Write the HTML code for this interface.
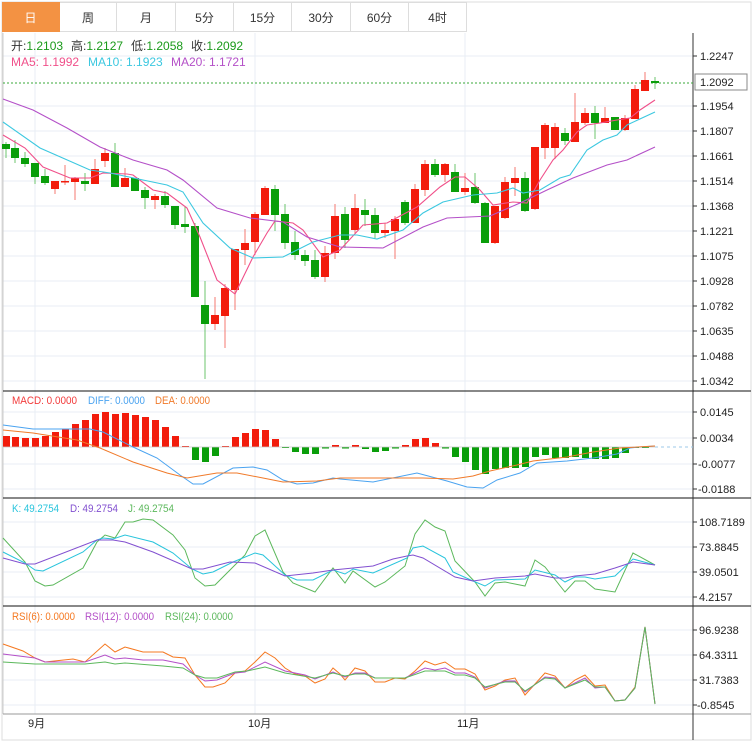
<!DOCTYPE html>
<html><head><meta charset="utf-8">
<style>
body{margin:0;background:#fff;width:756px;height:749px;overflow:hidden;font-family:"Liberation Sans","Noto Sans CJK SC",sans-serif}
.tabs{position:absolute;left:2px;top:2px;height:30px;display:flex}
.tab{width:57px;height:30px;border:1px solid #ddd;border-left:none;box-sizing:border-box;text-align:center;line-height:30px;font-size:12px;color:#333;margin-right:0}
.tab.on{background:#f39243;color:#fff;border-color:#f39243}
svg{position:absolute;left:0;top:0}
text{font-family:"Liberation Sans","Noto Sans CJK SC",sans-serif}
.r{fill:#f21c0c}.g{fill:#0a9e0a}
.wr{stroke:#f47a70;stroke-width:1}.wg{stroke:#6cc46c;stroke-width:1}
.ax{font-size:11px;fill:#222}
</style></head><body>
<svg width="756" height="749" viewBox="0 0 756 749">
<rect x="2" y="2" width="749" height="738" fill="#fff" stroke="#ddd"/>
<g stroke="#e8eef4" stroke-width="1">
<line x1="3" y1="56" x2="693" y2="56"/><line x1="3" y1="106" x2="693" y2="106"/><line x1="3" y1="131" x2="693" y2="131"/><line x1="3" y1="156" x2="693" y2="156"/><line x1="3" y1="181" x2="693" y2="181"/><line x1="3" y1="206" x2="693" y2="206"/><line x1="3" y1="231" x2="693" y2="231"/><line x1="3" y1="256" x2="693" y2="256"/><line x1="3" y1="281" x2="693" y2="281"/><line x1="3" y1="306" x2="693" y2="306"/><line x1="3" y1="331" x2="693" y2="331"/><line x1="3" y1="356" x2="693" y2="356"/><line x1="3" y1="381" x2="693" y2="381"/>
<line x1="3" y1="412" x2="693" y2="412"/><line x1="3" y1="438" x2="693" y2="438"/><line x1="3" y1="464" x2="693" y2="464"/><line x1="3" y1="489" x2="693" y2="489"/>
<line x1="3" y1="522" x2="693" y2="522"/><line x1="3" y1="547" x2="693" y2="547"/><line x1="3" y1="572" x2="693" y2="572"/><line x1="3" y1="597" x2="693" y2="597"/>
<line x1="3" y1="630" x2="693" y2="630"/><line x1="3" y1="655" x2="693" y2="655"/><line x1="3" y1="680" x2="693" y2="680"/><line x1="3" y1="705" x2="693" y2="705"/>
<line x1="35" y1="33" x2="35" y2="714"/><line x1="255" y1="33" x2="255" y2="714"/><line x1="465" y1="33" x2="465" y2="714"/>
</g>
<line x1="3" y1="33" x2="3" y2="714" stroke="#ccc"/>
<line x1="3" y1="391" x2="693" y2="391" stroke="#111"/>
<line x1="3" y1="498" x2="751" y2="498" stroke="#111"/>
<line x1="3" y1="606" x2="751" y2="606" stroke="#111"/>
<line x1="3" y1="714" x2="751" y2="714" stroke="#999"/>
<line x1="693" y1="33" x2="693" y2="740" stroke="#333"/>
<line x1="693" y1="391" x2="751" y2="391" stroke="#111"/>
<g stroke="#333">
<line x1="693" y1="56" x2="697" y2="56"/><line x1="693" y1="106" x2="697" y2="106"/><line x1="693" y1="131" x2="697" y2="131"/><line x1="693" y1="156" x2="697" y2="156"/><line x1="693" y1="181" x2="697" y2="181"/><line x1="693" y1="206" x2="697" y2="206"/><line x1="693" y1="231" x2="697" y2="231"/><line x1="693" y1="256" x2="697" y2="256"/><line x1="693" y1="281" x2="697" y2="281"/><line x1="693" y1="306" x2="697" y2="306"/><line x1="693" y1="331" x2="697" y2="331"/><line x1="693" y1="356" x2="697" y2="356"/><line x1="693" y1="381" x2="697" y2="381"/>
<line x1="693" y1="412" x2="697" y2="412"/><line x1="693" y1="438" x2="697" y2="438"/><line x1="693" y1="464" x2="697" y2="464"/><line x1="693" y1="489" x2="697" y2="489"/>
<line x1="693" y1="522" x2="697" y2="522"/><line x1="693" y1="547" x2="697" y2="547"/><line x1="693" y1="572" x2="697" y2="572"/><line x1="693" y1="597" x2="697" y2="597"/>
<line x1="693" y1="630" x2="697" y2="630"/><line x1="693" y1="655" x2="697" y2="655"/><line x1="693" y1="680" x2="697" y2="680"/><line x1="693" y1="705" x2="697" y2="705"/>
</g>
<g class="ax">
<text x="700" y="60">1.2247</text><text x="700" y="110">1.1954</text><text x="700" y="135">1.1807</text><text x="700" y="160">1.1661</text><text x="700" y="185">1.1514</text><text x="700" y="210">1.1368</text><text x="700" y="235">1.1221</text><text x="700" y="260">1.1075</text><text x="700" y="285">1.0928</text><text x="700" y="310">1.0782</text><text x="700" y="335">1.0635</text><text x="700" y="360">1.0488</text><text x="700" y="385">1.0342</text>
<text x="700" y="416">0.0145</text><text x="700" y="442">0.0034</text><text x="698" y="468">-0.0077</text><text x="698" y="493">-0.0188</text>
<text x="699" y="526">108.7189</text><text x="699" y="551">73.8845</text><text x="699" y="576">39.0501</text><text x="699" y="601">4.2157</text>
<text x="699" y="634">96.9238</text><text x="699" y="659">64.3311</text><text x="699" y="684">31.7383</text><text x="697" y="709">-0.8545</text>
</g>
<rect x="695" y="74" width="52" height="16" fill="#fff" stroke="#888"/>
<text x="700" y="86" class="ax">1.2092</text>
<line x1="3" y1="83" x2="693" y2="83" stroke="#3aa83a" stroke-dasharray="2,2"/>
<g>
<line class="wg" x1="6" y1="142" x2="6" y2="158"/><rect class="g" x="2" y="144" width="8" height="5"/>
<line class="wg" x1="15" y1="140" x2="15" y2="163"/><rect class="g" x="11" y="148" width="8" height="10"/>
<line class="wg" x1="25" y1="152" x2="25" y2="167"/><rect class="g" x="21" y="158" width="8" height="6"/>
<line class="wg" x1="35" y1="163" x2="35" y2="184"/><rect class="g" x="31" y="163" width="8" height="14"/>
<line class="wg" x1="45" y1="169" x2="45" y2="185"/><rect class="g" x="41" y="176" width="8" height="7"/>
<line class="wr" x1="55" y1="181" x2="55" y2="194"/><rect class="r" x="51" y="181" width="8" height="8"/>
<line class="wr" x1="65" y1="165" x2="65" y2="185"/><rect class="r" x="61" y="181" width="8" height="1.5"/>
<line class="wr" x1="75" y1="177" x2="75" y2="200"/><rect class="r" x="71" y="178" width="8" height="4"/>
<line class="wg" x1="85" y1="173" x2="85" y2="191"/><rect class="g" x="81" y="181" width="8" height="3"/>
<line class="wr" x1="95" y1="159" x2="95" y2="184"/><rect class="r" x="91" y="169" width="8" height="15"/>
<line class="wr" x1="105" y1="148" x2="105" y2="167"/><rect class="r" x="101" y="153" width="8" height="8"/>
<line class="wg" x1="115" y1="143" x2="115" y2="187"/><rect class="g" x="111" y="153" width="8" height="34"/>
<line class="wr" x1="125" y1="168" x2="125" y2="187"/><rect class="r" x="121" y="178" width="8" height="9"/>
<line class="wg" x1="135" y1="178" x2="135" y2="191"/><rect class="g" x="131" y="178" width="8" height="13"/>
<line class="wg" x1="145" y1="187" x2="145" y2="209"/><rect class="g" x="141" y="190" width="8" height="8"/>
<line class="wr" x1="155" y1="194" x2="155" y2="209"/><rect class="r" x="151" y="196" width="8" height="4"/>
<line class="wg" x1="165" y1="191" x2="165" y2="208"/><rect class="g" x="161" y="196" width="8" height="9"/>
<line class="wg" x1="175" y1="206" x2="175" y2="229"/><rect class="g" x="171" y="206" width="8" height="19"/>
<line class="wg" x1="185" y1="207" x2="185" y2="233"/><rect class="g" x="181" y="224" width="8" height="3"/>
<line class="wg" x1="195" y1="223" x2="195" y2="297"/><rect class="g" x="191" y="226" width="8" height="71"/>
<line class="wg" x1="205" y1="281" x2="205" y2="379"/><rect class="g" x="201" y="305" width="8" height="19"/>
<line class="wr" x1="215" y1="297" x2="215" y2="330"/><rect class="r" x="211" y="315" width="8" height="9"/>
<line class="wr" x1="225" y1="284" x2="225" y2="348"/><rect class="r" x="221" y="288" width="8" height="28"/>
<line class="wr" x1="235" y1="249" x2="235" y2="310"/><rect class="r" x="231" y="249" width="8" height="41"/>
<line class="wr" x1="245" y1="229" x2="245" y2="265"/><rect class="r" x="241" y="243" width="8" height="7"/>
<line class="wr" x1="255" y1="212" x2="255" y2="255"/><rect class="r" x="251" y="214" width="8" height="28"/>
<line class="wr" x1="265" y1="186" x2="265" y2="215"/><rect class="r" x="261" y="188" width="8" height="27"/>
<line class="wg" x1="275" y1="185" x2="275" y2="231"/><rect class="g" x="271" y="189" width="8" height="26"/>
<line class="wg" x1="285" y1="204" x2="285" y2="249"/><rect class="g" x="281" y="214" width="8" height="29"/>
<line class="wg" x1="295" y1="231" x2="295" y2="260"/><rect class="g" x="291" y="242" width="8" height="13"/>
<line class="wg" x1="305" y1="250" x2="305" y2="266"/><rect class="g" x="301" y="255" width="8" height="6"/>
<line class="wg" x1="315" y1="250" x2="315" y2="279"/><rect class="g" x="311" y="260" width="8" height="17"/>
<line class="wr" x1="325" y1="246" x2="325" y2="282"/><rect class="r" x="321" y="253" width="8" height="24"/>
<line class="wr" x1="335" y1="204" x2="335" y2="259"/><rect class="r" x="331" y="216" width="8" height="37"/>
<line class="wg" x1="345" y1="207" x2="345" y2="248"/><rect class="g" x="341" y="214" width="8" height="26"/>
<line class="wr" x1="355" y1="194" x2="355" y2="233"/><rect class="r" x="351" y="208" width="8" height="22"/>
<line class="wg" x1="365" y1="199" x2="365" y2="226"/><rect class="g" x="361" y="210" width="8" height="5"/>
<line class="wg" x1="375" y1="208" x2="375" y2="238"/><rect class="g" x="371" y="215" width="8" height="18"/>
<line class="wr" x1="385" y1="223" x2="385" y2="238"/><rect class="r" x="381" y="230" width="8" height="3"/>
<line class="wr" x1="395" y1="216" x2="395" y2="259"/><rect class="r" x="391" y="219" width="8" height="12"/>
<line class="wg" x1="405" y1="200" x2="405" y2="225"/><rect class="g" x="401" y="202" width="8" height="21"/>
<line class="wr" x1="415" y1="184" x2="415" y2="223"/><rect class="r" x="411" y="189" width="8" height="34"/>
<line class="wr" x1="425" y1="160" x2="425" y2="196"/><rect class="r" x="421" y="164" width="8" height="26"/>
<line class="wg" x1="435" y1="159" x2="435" y2="177"/><rect class="g" x="431" y="164" width="8" height="11"/>
<line class="wr" x1="445" y1="163" x2="445" y2="182"/><rect class="r" x="441" y="164" width="8" height="11"/>
<line class="wg" x1="455" y1="164" x2="455" y2="192"/><rect class="g" x="451" y="172" width="8" height="20"/>
<line class="wr" x1="465" y1="173" x2="465" y2="195"/><rect class="r" x="461" y="188" width="8" height="4"/>
<line class="wg" x1="475" y1="173" x2="475" y2="204"/><rect class="g" x="471" y="187" width="8" height="16"/>
<line class="wg" x1="485" y1="202" x2="485" y2="243"/><rect class="g" x="481" y="203" width="8" height="40"/>
<line class="wr" x1="495" y1="206" x2="495" y2="244"/><rect class="r" x="491" y="206" width="8" height="37"/>
<line class="wr" x1="505" y1="177" x2="505" y2="219"/><rect class="r" x="501" y="182" width="8" height="36"/>
<line class="wr" x1="515" y1="167" x2="515" y2="196"/><rect class="r" x="511" y="178" width="8" height="5"/>
<line class="wg" x1="525" y1="172" x2="525" y2="212"/><rect class="g" x="521" y="178" width="8" height="33"/>
<line class="wr" x1="535" y1="147" x2="535" y2="210"/><rect class="r" x="531" y="147" width="8" height="62"/>
<line class="wr" x1="545" y1="123" x2="545" y2="159"/><rect class="r" x="541" y="125" width="8" height="23"/>
<line class="wr" x1="555" y1="123" x2="555" y2="159"/><rect class="r" x="551" y="127" width="8" height="21"/>
<line class="wg" x1="565" y1="128" x2="565" y2="145"/><rect class="g" x="561" y="133" width="8" height="8"/>
<line class="wr" x1="575" y1="93" x2="575" y2="142"/><rect class="r" x="571" y="122" width="8" height="20"/>
<line class="wr" x1="585" y1="108" x2="585" y2="125"/><rect class="r" x="581" y="113" width="8" height="10"/>
<line class="wg" x1="595" y1="106" x2="595" y2="139"/><rect class="g" x="591" y="113" width="8" height="10"/>
<line class="wr" x1="605" y1="107" x2="605" y2="123"/><rect class="r" x="601" y="118" width="8" height="5"/>
<line class="wg" x1="615" y1="117" x2="615" y2="130"/><rect class="g" x="611" y="117" width="8" height="13"/>
<line class="wr" x1="625" y1="115" x2="625" y2="131"/><rect class="r" x="621" y="118" width="8" height="12"/>
<line class="wr" x1="635" y1="85" x2="635" y2="119"/><rect class="r" x="631" y="89" width="8" height="30"/>
<line class="wr" x1="645" y1="72" x2="645" y2="91"/><rect class="r" x="641" y="80" width="8" height="11"/>
<line class="wg" x1="655" y1="77" x2="655" y2="89"/><rect class="g" x="651" y="81" width="8" height="2"/>
</g>
<g fill="none" stroke-width="1.1">
<polyline stroke="#f0508a" points="3,135 25,148 43,167 70,178 90,178 103,173 127,174 133,175 153,190 167,193 187,208 200,237 217,280 235,294 253,257 267,233 275,221 293,223 303,230 323,257 340,250 363,225 387,223 417,207 440,187 455,177 465,177 480,190 493,205 513,202 527,203 540,180 553,160 563,150 577,132 587,125 600,123 617,120 630,118 640,110 655,100"/>
<polyline stroke="#3cc8e0" points="3,122 40,148 90,170 110,173 143,180 167,185 183,192 203,223 230,248 253,258 283,257 313,242 340,235 357,235 377,239 403,230 423,213 443,202 473,195 497,193 513,188 523,193 540,190 560,178 570,175 587,150 603,140 617,135 627,125 655,112"/>
<polyline stroke="#b450c8" points="3,99 33,110 67,128 100,147 133,160 167,170 183,180 217,208 250,218 283,222 307,237 340,247 383,248 423,227 447,218 490,216 520,203 547,190 573,178 607,165 627,160 655,147"/>
</g>
<g>
<rect class="r" x="3" y="436" width="7" height="11"/><rect class="r" x="12" y="437" width="7" height="10"/><rect class="r" x="22" y="438" width="7" height="9"/><rect class="r" x="32" y="438" width="7" height="9"/><rect class="r" x="42" y="436" width="7" height="11"/><rect class="r" x="52" y="432" width="7" height="15"/><rect class="r" x="62" y="429" width="7" height="18"/><rect class="r" x="72" y="424" width="7" height="23"/><rect class="r" x="82" y="420" width="7" height="27"/><rect class="r" x="92" y="414" width="7" height="33"/><rect class="r" x="102" y="412" width="7" height="35"/><rect class="r" x="112" y="414" width="7" height="33"/><rect class="r" x="122" y="413" width="7" height="34"/><rect class="r" x="132" y="415" width="7" height="32"/><rect class="r" x="142" y="417" width="7" height="30"/><rect class="r" x="152" y="420" width="7" height="27"/><rect class="r" x="162" y="427" width="7" height="20"/><rect class="r" x="172" y="436" width="7" height="11"/><rect class="r" x="182" y="446" width="7" height="1"/>
<rect class="g" x="192" y="447" width="7" height="13"/><rect class="g" x="202" y="447" width="7" height="15"/><rect class="g" x="212" y="447" width="7" height="9"/><rect class="r" x="222" y="446" width="7" height="1"/>
<rect class="r" x="232" y="437" width="7" height="10"/><rect class="r" x="242" y="433" width="7" height="14"/><rect class="r" x="252" y="429" width="7" height="18"/><rect class="r" x="262" y="430" width="7" height="17"/><rect class="r" x="272" y="439" width="7" height="8"/>
<rect class="g" x="282" y="447" width="7" height="1"/><rect class="g" x="292" y="447" width="7" height="5"/><rect class="g" x="302" y="447" width="7" height="7"/><rect class="g" x="312" y="447" width="7" height="7"/><rect class="g" x="322" y="447" width="7" height="1.5"/><rect class="r" x="332" y="445" width="7" height="2"/><rect class="g" x="342" y="447" width="7" height="1.5"/><rect class="r" x="352" y="445" width="7" height="2"/><rect class="g" x="362" y="447" width="7" height="2"/><rect class="g" x="372" y="447" width="7" height="5"/><rect class="g" x="382" y="447" width="7" height="4"/><rect class="g" x="392" y="447" width="7" height="1.5"/>
<rect class="r" x="402" y="445" width="7" height="2"/><rect class="r" x="412" y="439" width="7" height="8"/><rect class="r" x="422" y="438" width="7" height="9"/><rect class="r" x="432" y="443" width="7" height="4"/>
<rect class="g" x="442" y="447" width="7" height="1.5"/><rect class="g" x="452" y="447" width="7" height="10"/><rect class="g" x="462" y="447" width="7" height="15"/><rect class="g" x="472" y="447" width="7" height="23"/><rect class="g" x="482" y="447" width="7" height="27"/><rect class="g" x="492" y="447" width="7" height="22"/><rect class="g" x="502" y="447" width="7" height="21"/><rect class="g" x="512" y="447" width="7" height="21"/><rect class="g" x="522" y="447" width="7" height="20"/><rect class="g" x="532" y="447" width="7" height="10"/><rect class="g" x="542" y="447" width="7" height="8"/><rect class="g" x="552" y="447" width="7" height="11"/><rect class="g" x="562" y="447" width="7" height="11"/><rect class="g" x="572" y="447" width="7" height="10"/><rect class="g" x="582" y="447" width="7" height="11"/><rect class="g" x="592" y="447" width="7" height="12"/><rect class="g" x="602" y="447" width="7" height="12"/><rect class="g" x="612" y="447" width="7" height="11"/><rect class="g" x="622" y="447" width="7" height="6"/><rect class="g" x="632" y="447" width="7" height="1"/><rect class="g" x="642" y="447" width="7" height="1"/>
</g>
<line x1="3" y1="447" x2="655" y2="447" stroke="#c8c8c8" stroke-width="0.8"/>
<line x1="655" y1="447" x2="693" y2="447" stroke="#9cc8e8" stroke-dasharray="3,3"/>
<g fill="none" stroke-width="1">
<polyline stroke="#4aa3f0" points="3,425 33,429 90,429 103,432 133,447 157,458 180,475 193,484 203,484 233,468 253,467 267,470 283,480 297,484 313,483 333,478 340,479 373,482 417,473 447,481 467,487 483,488 497,480 520,473 537,463 567,461 593,458 617,454 630,448 640,447 655,446"/>
<polyline stroke="#f07a2a" points="3,430 33,433 77,440 100,448 133,462 167,473 187,478 217,473 237,473 263,478 283,482 317,481 340,478 390,478 423,478 453,479 473,476 490,471 517,465 533,461 567,457 593,452 620,448 655,446"/>
</g>
<g fill="none" stroke-width="1">
<polyline stroke="#5cb85c" points="3,538 25,562 35,581 45,586 53,585 83,568 97,542 105,535 115,538 125,522 133,522 143,519 153,520 173,535 185,550 195,578 205,586 215,585 230,570 245,555 255,536 265,530 283,572 293,583 315,592 333,568 345,583 353,571 375,587 385,582 405,566 415,534 425,520 435,527 445,531 455,561 475,582 485,596 495,583 505,582 525,586 535,560 545,567 565,592 575,581 585,581 595,589 615,592 633,553 655,565"/>
<polyline stroke="#28c4dc" points="3,552 25,563 35,570 43,571 83,552 97,540 103,538 113,539 125,535 153,542 173,553 192,569 203,574 213,572 233,562 255,553 263,555 285,575 297,580 313,580 333,570 345,574 353,569 373,573 407,558 413,548 423,546 445,558 453,572 473,581 485,586 495,580 525,579 535,570 555,575 565,582 575,577 585,577 595,579 615,576 633,559 655,565"/>
<polyline stroke="#8250d0" points="3,558 25,564 35,564 97,540 113,540 125,542 153,552 192,569 203,569 230,562 255,563 285,576 313,573 333,570 353,568 373,566 393,559 407,556 413,555 423,558 455,577 473,581 495,578 525,576 535,574 555,578 565,578 575,576 595,574 615,568 633,562 655,565"/>
</g>
<g fill="none" stroke-width="1">
<polyline stroke="#f57820" points="3,644 23,651 35,658 45,662 73,659 85,662 105,644 115,652 125,647 143,652 163,652 173,657 185,658 195,675 205,687 213,687 225,683 235,673 245,671 255,662 265,652 275,658 285,668 295,674 305,676 315,683 325,679 333,668 340,674 345,680 355,668 365,671 375,682 385,682 395,678 405,679 415,671 425,661 435,665 445,662 455,669 465,669 475,674 485,690 495,686 505,680 515,678 525,695 535,684 545,673 555,676 565,688 575,680 585,675 595,686 605,685 615,701 625,700 635,687 645,627 655,704"/>
<polyline stroke="#b450c8" points="3,654 35,658 45,662 85,662 105,655 115,659 125,658 143,660 163,660 183,664 195,675 205,681 217,680 235,673 245,672 265,662 285,671 305,675 315,679 333,672 345,677 355,673 365,673 375,678 405,678 425,668 435,670 445,668 455,673 465,673 475,677 485,688 505,681 515,681 525,692 545,677 555,678 565,688 585,678 595,688 605,687 615,701 625,700 635,688 645,627 655,704"/>
<polyline stroke="#5cb85c" points="3,662 35,664 85,664 105,662 115,664 125,663 163,666 183,668 195,675 205,678 217,678 235,672 247,671 265,667 285,673 315,678 333,673 345,676 355,674 365,674 375,678 405,678 425,671 445,671 455,675 465,675 475,678 485,687 505,682 515,682 525,691 545,678 555,679 565,688 585,680 595,687 605,687 615,701 625,700 635,688 645,627 655,704"/>
</g>
<g font-size="12" fill="#333">
<text x="11" y="50">开:<tspan fill="#1a9a1a">1.2103</tspan></text>
<text x="71" y="50">高:<tspan fill="#1a9a1a">1.2127</tspan></text>
<text x="131" y="50">低:<tspan fill="#1a9a1a">1.2058</tspan></text>
<text x="191" y="50">收:<tspan fill="#1a9a1a">1.2092</tspan></text>
<text x="11" y="66" fill="#f0508a">MA5: 1.1992</text>
<text x="88" y="66" fill="#3cc8e0">MA10: 1.1923</text>
<text x="171" y="66" fill="#b450c8">MA20: 1.1721</text>
</g>
<g font-size="11">
<text x="12" y="404" fill="#f23a3a" textLength="65" lengthAdjust="spacingAndGlyphs">MACD: 0.0000</text>
<text x="88" y="404" fill="#4aa3f0" textLength="57" lengthAdjust="spacingAndGlyphs">DIFF: 0.0000</text>
<text x="155" y="404" fill="#f07a2a" textLength="55" lengthAdjust="spacingAndGlyphs">DEA: 0.0000</text>
<text x="12" y="512" fill="#28c4dc" textLength="47" lengthAdjust="spacingAndGlyphs">K: 49.2754</text>
<text x="70" y="512" fill="#8250d0" textLength="48" lengthAdjust="spacingAndGlyphs">D: 49.2754</text>
<text x="128" y="512" fill="#5cb85c" textLength="46" lengthAdjust="spacingAndGlyphs">J: 49.2754</text>
<text x="12" y="620" fill="#f57820" textLength="63" lengthAdjust="spacingAndGlyphs">RSI(6): 0.0000</text>
<text x="85" y="620" fill="#b450c8" textLength="69" lengthAdjust="spacingAndGlyphs">RSI(12): 0.0000</text>
<text x="165" y="620" fill="#5cb85c" textLength="68" lengthAdjust="spacingAndGlyphs">RSI(24): 0.0000</text>
</g>
<text x="28" y="727" font-size="11" fill="#222">9月</text>
<text x="248" y="727" font-size="11" fill="#222">10月</text>
<text x="457" y="727" font-size="11" fill="#222">11月</text>
</svg>
<div class="tabs">
<div class="tab on" style="width:58px">日</div><div class="tab">周</div><div class="tab" style="width:59px">月</div><div class="tab" style="width:58px">5分</div><div class="tab" style="width:58px">15分</div><div class="tab" style="width:59px">30分</div><div class="tab" style="width:58px">60分</div><div class="tab" style="width:58px">4时</div>
</div>
</body></html>
